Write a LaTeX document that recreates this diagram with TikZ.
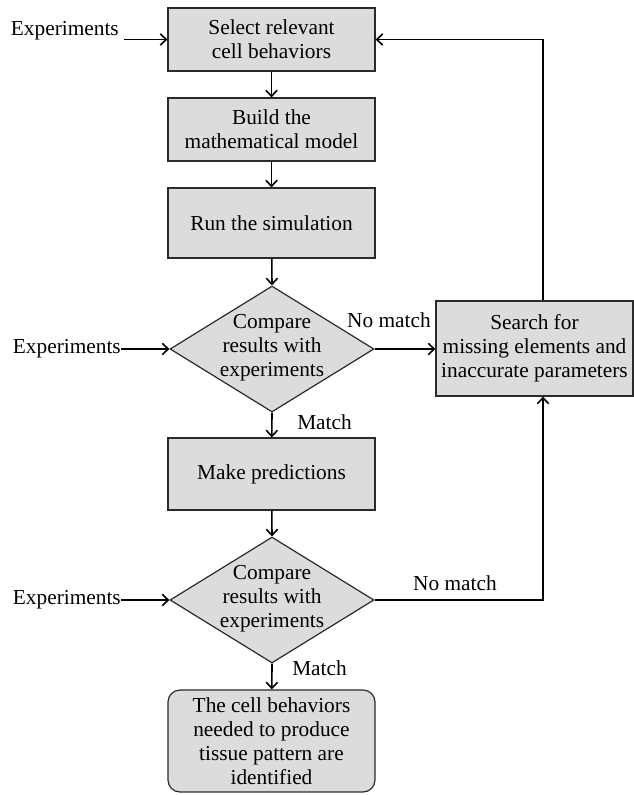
\documentclass[tikz,border=0pt]{standalone}
\usepackage{fontspec}
\setmainfont{Liberation Serif}
\usetikzlibrary{shapes.geometric,arrows.meta}
\definecolor{boxfill}{HTML}{DCDCDC}
\definecolor{boxline}{HTML}{2A2A2A}
\begin{document}
\begin{tikzpicture}[x=0.75pt,y=-0.75pt,
  every node/.style={font=\fontsize{16}{18}\selectfont},
  stepbox/.style={draw=boxline,line width=0.9pt,fill=boxfill,rectangle,align=center,
    minimum width=155.25pt,inner sep=0pt},
  decide/.style={draw=boxline,line width=0.9pt,fill=boxfill,diamond,inner sep=0pt,
    minimum width=153pt,minimum height=94.5pt},
  endbox/.style={stepbox,rounded corners=9pt},
  lbl/.style={inner sep=0pt},
  conn/.style={line width=1.2pt,-{Straight Barb[length=4.5pt,width=8.5pt]}}
]
\useasboundingbox (0,0) rectangle (634,795);

\node[stepbox,minimum height=47.25pt] (b1) at (271.5,39.5) {Select relevant\\cell behaviors};
\node[stepbox,minimum height=47.25pt] (b2) at (271.5,129.5) {Build the\\mathematical model};
\node[stepbox,minimum height=52.5pt] (b3) at (271.5,223) {Run the simulation};
\node[decide] (d1) at (272,349) {};
\node[align=center,inner sep=0pt] (d1t) at (272,348) {Compare\\results with\\experiments};
\node[stepbox,minimum height=54pt] (b4) at (271.5,474) {Make predictions};
\node[decide] (d2) at (272,600) {};
\node[align=center,inner sep=0pt] (d2t) at (272,599) {Compare\\results with\\experiments};
\node[endbox,minimum height=76.5pt] (fin) at (271.5,741) {The cell behaviors\\needed to produce\\tissue pattern are\\identified};
\node[stepbox,minimum width=147.75pt,minimum height=71.25pt] (s) at (534.5,348.5) {Search for\\missing elements and\\inaccurate parameters};

\node[lbl,anchor=east] (x1) at (119,31) {Experiments};
\coordinate (x1a) at (124,39.5);
\node[lbl,anchor=east] (x2) at (121,349) {Experiments};
\node[lbl,anchor=east] (x3) at (121,600) {Experiments};

\node[lbl] (nm1) at (389,320) {No match};
\node[lbl] (nm2) at (455,583) {No match};
\node[lbl,anchor=west] (m1) at (297,422) {Match};
\node[lbl,anchor=west] (m2) at (292,668) {Match};

\coordinate (lx) at (543,0);

\draw[conn] (x1a) -- (b1.west);
\draw[conn] (x2) -- (d1.west);
\draw[conn] (x3) -- (d2.west);
\draw[conn] (b1) -- (b2);
\draw[conn] (b2) -- (b3);
\draw[conn] (b3) -- (d1.north);
\draw[conn] (d1.south) -- (b4);
\draw[conn] (b4) -- (d2.north);
\draw[conn] (d2.south) -- (fin);
\draw[conn] (d1.east) -- (d1.east -| s.west);
\draw[conn] (s.north -| lx) |- (b1.east);
\draw[conn] (d2.east) -| (s.south -| lx);
\end{tikzpicture}
\end{document}
